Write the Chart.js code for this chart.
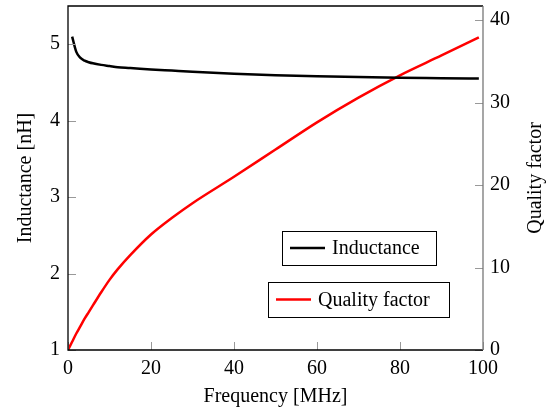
<!DOCTYPE html>
<html>
<head>
<meta charset="utf-8">
<script src="https://cdn.jsdelivr.net/npm/chart.js@4"></script>
<style>
html,body{margin:0;padding:0;background:#fff;}
#wrap{width:552px;height:415px;position:relative;}
</style>
</head>
<body>
<div id="wrap"><canvas id="c" width="552" height="415"></canvas></div>
<script>
const frequency  = [0, 1, 2, 3, 4, 5, 6, 8, 10, 12, 15, 20, 25, 30, 40, 50, 60, 70, 80, 90, 99];
const inductance = [null, 5.10, 4.90, 4.82, 4.785, 4.765, 4.75, 4.73, 4.715, 4.70, 4.69, 4.67, 4.655, 4.64, 4.615, 4.595, 4.58, 4.57, 4.56, 4.555, 4.55];
const quality    = [0, 1.0, 2.0, 2.9, 3.8, 4.6, 5.4, 7.0, 8.5, 9.8, 11.5, 14.0, 16.0, 17.8, 21.0, 24.3, 27.6, 30.6, 33.3, 35.7, 37.9];
const xTicks = [0, 20, 40, 60, 80, 100];
const leftTicks = [1, 2, 3, 4, 5];
const rightTicks = [0, 10, 20, 30, 40];
const seriesNames = ['Inductance', 'Quality factor'];
const axisTitles = ['Frequency [MHz]', 'Inductance [nH]', 'Quality factor'];

const FONT = "'Liberation Serif', 'Times New Roman', serif";

const frame = {
  id: 'frame',
  afterDatasetsDraw(chart) {
    const ctx = chart.ctx, a = chart.chartArea;
    const sx = chart.scales.x, sl = chart.scales.y, sr = chart.scales.y1;
    ctx.save();
    ctx.lineWidth = 1;
    ctx.strokeStyle = '#999';
    const T = 8;
    xTicks.forEach(v => { const p = Math.round(sx.getPixelForValue(v)) + 0.5; ctx.beginPath(); ctx.moveTo(p, a.bottom); ctx.lineTo(p, a.bottom - T); ctx.stroke(); });
    leftTicks.forEach(v => { const p = Math.round(sl.getPixelForValue(v)) + 0.5; ctx.beginPath(); ctx.moveTo(a.left, p); ctx.lineTo(a.left + T, p); ctx.stroke(); });
    rightTicks.forEach(v => { const p = Math.round(sr.getPixelForValue(v)) + 0.5; ctx.beginPath(); ctx.moveTo(a.right, p); ctx.lineTo(a.right - T, p); ctx.stroke(); });
    ctx.lineWidth = 1.3;
    ctx.strokeStyle = '#000';
    ctx.beginPath();
    ctx.moveTo(a.right, a.top); ctx.lineTo(a.left, a.top); ctx.lineTo(a.left, a.bottom); ctx.lineTo(a.right, a.bottom);
    ctx.stroke();
    ctx.strokeStyle = '#777';
    ctx.beginPath(); ctx.moveTo(a.right, a.top); ctx.lineTo(a.right, a.bottom); ctx.stroke();

    // right axis title (reads bottom-to-top)
    ctx.font = '20px ' + FONT;
    ctx.fillStyle = '#000';
    ctx.textAlign = 'center';
    ctx.textBaseline = 'middle';
    ctx.save();
    ctx.translate(a.right + 53, (a.top + a.bottom) / 2);
    ctx.rotate(-Math.PI / 2);
    ctx.fillText(axisTitles[2], 0, 0);
    ctx.restore();

    // legend boxes
    const ds = chart.data.datasets;
    const boxes = [
      {i: 0, x: a.left + 214, y: a.top + 225, w: 154, h: 34},
      {i: 1, x: a.left + 200, y: a.top + 276, w: 181, h: 35}
    ];
    ctx.textAlign = 'left';
    boxes.forEach(b => {
      ctx.fillStyle = '#fff';
      ctx.fillRect(b.x, b.y, b.w, b.h);
      ctx.lineWidth = 1;
      ctx.strokeStyle = '#000';
      ctx.strokeRect(Math.round(b.x) + 0.5, Math.round(b.y) + 0.5, b.w, b.h);
      const cy = b.y + b.h / 2;
      ctx.lineWidth = 2.5;
      ctx.strokeStyle = ds[b.i].borderColor;
      ctx.beginPath(); ctx.moveTo(b.x + 8, cy); ctx.lineTo(b.x + 43, cy); ctx.stroke();
      ctx.fillStyle = '#000';
      ctx.fillText(ds[b.i].label, b.x + 50, cy + 1);
    });
    ctx.restore();
  }
};

function fixPad(w) {
  return function(scale) {
    if (scale.isHorizontal()) scale.height = w; else scale.width = w;
    scale.paddingTop = 0; scale.paddingBottom = 0; scale.paddingLeft = 0; scale.paddingRight = 0;
  };
}

new Chart(document.getElementById('c'), {
  type: 'line',
  data: {
    labels: frequency,
    datasets: [
      { label: seriesNames[0], data: inductance, yAxisID: 'y', borderColor: '#000', borderWidth: 2.5, pointRadius: 0, fill: false, cubicInterpolationMode: 'monotone', spanGaps: true },
      { label: seriesNames[1], data: quality, yAxisID: 'y1', borderColor: '#ff0000', borderWidth: 2.5, pointRadius: 0, fill: false, cubicInterpolationMode: 'monotone' }
    ]
  },
  options: {
    responsive: false,
    animation: false,
    devicePixelRatio: 1,
    layout: { padding: { top: 6, left: 0, right: 0, bottom: 0 } },
    plugins: { legend: { display: false }, tooltip: { enabled: false } },
    scales: {
      x: {
        type: 'linear', min: 0, max: 100,
        grid: { display: false, drawTicks: false }, border: { display: false },
        ticks: { stepSize: 20, includeBounds: false, color: '#000', padding: 7, font: { family: FONT, size: 20 }, maxRotation: 0 },
        title: { display: true, text: axisTitles[0], color: '#000', font: { family: FONT, size: 20 }, padding: { top: 2, bottom: 6 } },
        afterFit: fixPad(65)
      },
      y: {
        type: 'linear', position: 'left', min: 1, max: 5.5,
        grid: { display: false, drawTicks: false }, border: { display: false },
        ticks: { stepSize: 1, includeBounds: false, color: '#000', padding: 8, font: { family: FONT, size: 20 } },
        title: { display: true, text: axisTitles[1], color: '#000', font: { family: FONT, size: 20 }, padding: { top: 14, bottom: 0 } },
        afterFit: fixPad(68)
      },
      y1: {
        type: 'linear', position: 'right', min: 0, max: 41.7,
        grid: { display: false, drawTicks: false }, border: { display: false },
        ticks: { stepSize: 10, includeBounds: false, color: '#000', padding: 7, font: { family: FONT, size: 20 } },
        title: { display: false },
        afterFit: fixPad(69)
      }
    }
  },
  plugins: [frame]
});
</script>
</body>
</html>
